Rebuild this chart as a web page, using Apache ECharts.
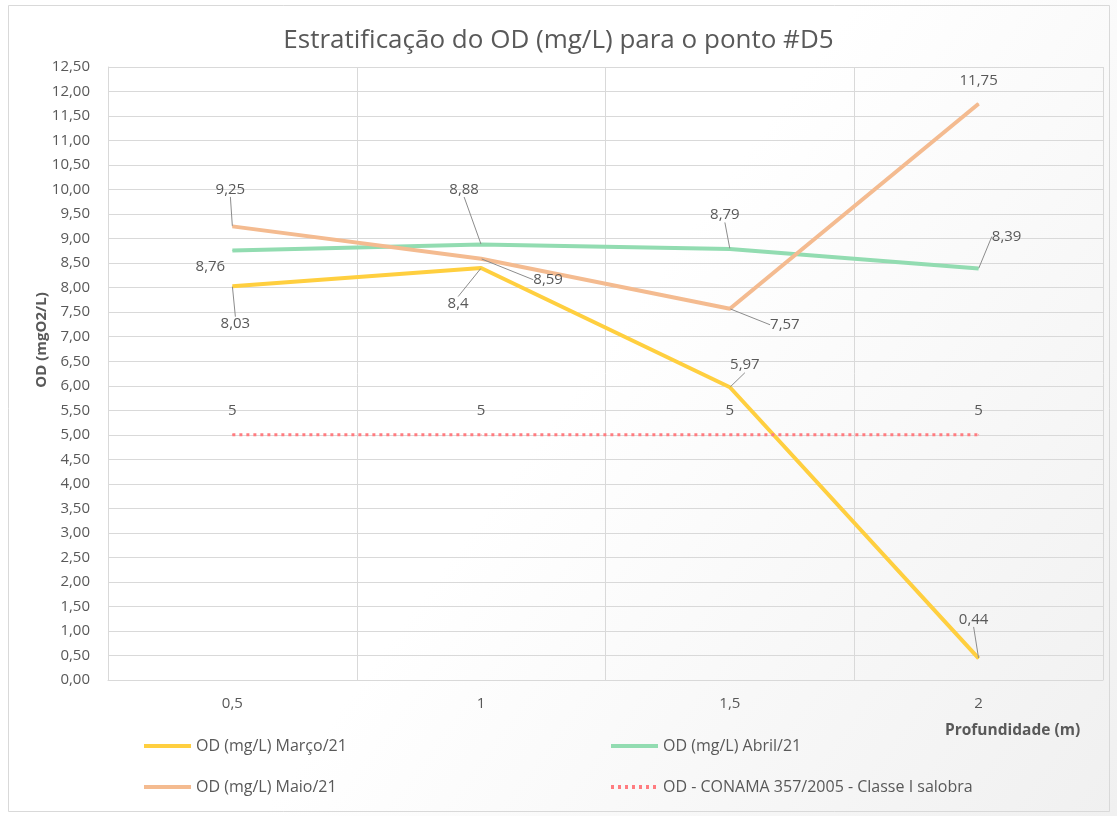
<!DOCTYPE html>
<html>
<head>
<meta charset="utf-8">
<script src="https://cdn.jsdelivr.net/npm/echarts@6/dist/echarts.min.js"></script>
<style>
  html, body { margin: 0; padding: 0; }
  #chart { width: 1117px; height: 816px; }
</style>
</head>
<body>
<div id="chart"></div>
<script>
// profundidades (m)
const categories = ['0,5', '1', '1,5', '2'];
const marco = [8.03, 8.4, 5.97, 0.44];
const abril = [8.76, 8.88, 8.79, 8.39];
const maio = [9.25, 8.59, 7.57, 11.75];
const conama = [5, 5, 5, 5];

// deslocamento dos rótulos (estilo Excel) [dx, dy, linha guia?]
const offMarco = [[3, 38, 1], [-23, 36, 1], [15, -22, 1], [-5, -39, 1]];
const offAbril = [[-22, 16, 0], [-17, -55, 1], [-5, -34, 1], [28, -32, 1]];
const offMaio = [[-2, -37, 1], [67, 21, 1], [55, 16, 1], [0, -23, 0]];
const offConama = [[0, -24, 0], [0, -24, 0], [0, -24, 0], [0, -24, 0]];

const font = '"Open Sans", "Liberation Sans", sans-serif';
const grey = '#595959';

const fmt = v => String(v).replace('.', ',');

function makeSeries(name, data, color, offs, dotted) {
  return {
    name: name,
    type: 'line',
    data: data.map((v, i) => ({ value: v, labelLine: { show: !!offs[i][2] } })),
    symbol: 'circle',
    symbolSize: 1,
    showSymbol: true,
    itemStyle: { color: color },
    lineStyle: { color: color, width: dotted ? 3 : 4, type: dotted ? [3, 4] : 'solid' },
    label: {
      show: true,
      position: 'inside',
      formatter: p => fmt(p.value),
      color: grey,
      fontFamily: font,
      fontSize: 15
    },
    labelLine: {
      show: true,
      lineStyle: { color: '#8c8c8c', width: 1 }
    },
    labelLayout: p => ({ dx: offs[p.dataIndex][0], dy: offs[p.dataIndex][1] }),
    emphasis: { disabled: true },
    animation: false
  };
}

function legendAt(name, left, top) {
  return {
    data: [name],
    left: left,
    top: top,
    itemWidth: 47,
    itemHeight: 14,
    itemStyle: { opacity: 0 },
    lineStyle: { width: 4 },
    textStyle: { color: grey, fontFamily: font, fontSize: 16 }
  };
}

const chart = echarts.init(document.getElementById('chart'));
chart.setOption({
  backgroundColor: {
    type: 'linear', x: 0, y: 0, x2: 1, y2: 1,
    colorStops: [{ offset: 0, color: '#ffffff' }, { offset: 0.5, color: '#ffffff' }, { offset: 1, color: '#f0f0f0' }]
  },
  title: {
    text: 'Estratificação do OD (mg/L) para o ponto #D5',
    left: 'center',
    top: 23,
    textStyle: { color: grey, fontFamily: font, fontSize: 26, fontWeight: 'normal' }
  },
  graphic: [
    {
      type: 'rect',
      shape: { x: 8.5, y: 5.5, width: 1101, height: 806 },
      style: { fill: 'none', stroke: '#d9d9d9', lineWidth: 1 },
      silent: true
    },
    {
      type: 'text',
      left: 945,
      top: 723,
      style: { text: 'Profundidade (m)', fill: grey, font: 'bold 15.5px ' + font }
    },
    {
      type: 'text',
      x: 42,
      y: 340,
      rotation: Math.PI / 2,
      style: {
        text: 'OD (mgO2/L)', fill: grey, font: 'bold 15px ' + font,
        align: 'center', verticalAlign: 'middle'
      }
    }
  ],
  legend: [
    legendAt('OD (mg/L) Março/21', 137, 733),
    legendAt('OD (mg/L) Abril/21', 604, 733),
    legendAt('OD (mg/L) Maio/21', 137, 774),
    legendAt('OD - CONAMA 357/2005 - Classe I salobra', 604, 774)
  ],
  grid: { left: 108, right: 14, top: 67, bottom: 136 },
  xAxis: {
    type: 'category',
    data: categories,
    boundaryGap: true,
    axisLine: { show: true, lineStyle: { color: '#d9d9d9' } },
    axisTick: { show: false },
    axisLabel: { color: grey, fontFamily: font, fontSize: 15, margin: 16 },
    splitLine: { show: true, lineStyle: { color: '#d9d9d9' } }
  },
  yAxis: {
    type: 'value',
    min: 0,
    max: 12.5,
    interval: 0.5,
    axisLine: { show: true, lineStyle: { color: '#d9d9d9' } },
    axisTick: { show: false },
    axisLabel: { color: grey, fontFamily: font, fontSize: 15, margin: 18, formatter: v => v.toFixed(2).replace('.', ',') },
    splitLine: { show: true, lineStyle: { color: '#d9d9d9' } }
  },
  series: [
    makeSeries('OD (mg/L) Março/21', marco, '#ffcf3f', offMarco, false),
    makeSeries('OD (mg/L) Abril/21', abril, '#92dcb1', offAbril, false),
    makeSeries('OD (mg/L) Maio/21', maio, '#f4bb90', offMaio, false),
    makeSeries('OD - CONAMA 357/2005 - Classe I salobra', conama, '#ff7c80', offConama, true)
  ]
});
window.addEventListener('resize', chart.resize);
</script>
</body>
</html>
